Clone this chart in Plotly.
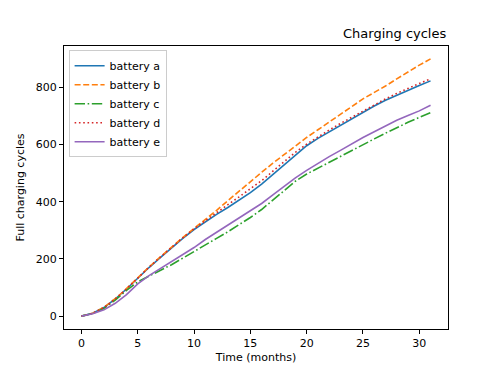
import plotly.graph_objs as go

months = list(range(32))

battery_a = [0, 10, 30, 60, 95, 133, 170, 205, 240, 272, 303, 330, 356, 380, 405,
             432, 462, 495, 530, 563, 596, 622, 645, 668, 690, 713, 735, 755, 773,
             790, 807, 823]
battery_b = [0, 10, 31, 61, 96, 135, 172, 207, 242, 275, 307, 338, 370, 404, 438,
             471, 503, 535, 565, 597, 625, 652, 678, 705, 733, 760, 782, 805, 830,
             855, 878, 900]
battery_c = [0, 9, 27, 56, 90, 120, 140, 159, 180, 203, 227, 250, 272, 295, 319,
             345, 373, 405, 440, 472, 497, 518, 539, 560, 580, 600, 620, 640, 660,
             678, 695, 712]
battery_d = [0, 10, 30, 60, 95, 134, 171, 206, 241, 274, 305, 334, 362, 390, 417,
             445, 474, 507, 540, 573, 602, 628, 651, 674, 696, 718, 740, 760, 779,
             797, 814, 830]
battery_e = [0, 8, 22, 45, 75, 113, 142, 166, 190, 214, 240, 268, 293, 318, 343,
             368, 394, 424, 455, 484, 510, 535, 558, 580, 603, 625, 645, 665, 685,
             702, 718, 738]

series = [
    ('battery a', battery_a, '#1f77b4', 'solid'),
    ('battery b', battery_b, '#ff7f0e', '6px,2.6px'),
    ('battery c', battery_c, '#2ca02c', '10.4px,2.6px,1.6px,2.6px'),
    ('battery d', battery_d, '#d62728', '1.6px,2.7px'),
    ('battery e', battery_e, '#9467bd', 'solid'),
]

fig = go.Figure()

for name, values, color, dash in series:
    fig.add_trace(
        go.Scatter(
            x=months,
            y=values,
            mode='lines',
            line=dict(color=color, width=1.6, dash=dash),
            name=name,
        )
    )

axis_style = dict(
    showline=True,
    linecolor='black',
    linewidth=0.9,
    mirror=True,
    ticks='outside',
    ticklen=4,
    tickwidth=0.9,
    tickcolor='black',
    showgrid=False,
    zeroline=False,
    tickfont=dict(size=11, color='black'),
    title_font=dict(size=11, color='black'),
)

# the page body adds an 8px offset, so the figure is a bit smaller than the window
fig.update_layout(
    width=490,
    height=366,
    margin=dict(l=54, r=50, t=38, b=39),
    paper_bgcolor='white',
    plot_bgcolor='white',
    font=dict(family='DejaVu Sans', color='black'),
    xaxis=dict(axis_style, range=[-1.55, 32.55], tickvals=[0, 5, 10, 15, 20, 25, 30],
               title=dict(text='Time (months)', standoff=4)),
    yaxis=dict(axis_style, range=[-45, 945], tickvals=[0, 200, 400, 600, 800],
               title=dict(text='Full charging cycles', standoff=8)),
    legend=dict(
        x=0.012,
        y=0.985,
        xanchor='left',
        yanchor='top',
        bgcolor='rgba(255,255,255,0.8)',
        bordercolor='#cccccc',
        borderwidth=1,
        font=dict(size=11, color='black'),
        itemwidth=30,
    ),
    showlegend=True,
)

fig.add_annotation(
    text='Charging cycles',
    xref='paper',
    yref='paper',
    x=1,
    y=1,
    xanchor='right',
    yanchor='bottom',
    yshift=3,
    showarrow=False,
    font=dict(size=13, color='black'),
)

fig.write_html("out.html")
